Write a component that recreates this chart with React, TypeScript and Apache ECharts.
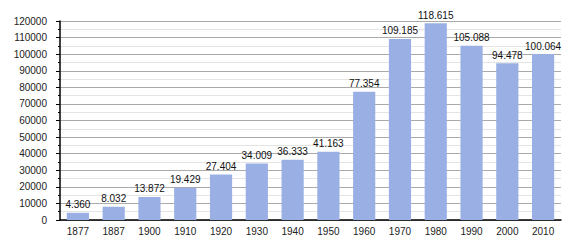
import React, { useEffect, useRef } from "react";
import * as echarts from "echarts";

const years = ["1877", "1887", "1900", "1910", "1920", "1930", "1940", "1950", "1960", "1970", "1980", "1990", "2000", "2010"];
const population = [4360, 8032, 13872, 19429, 27404, 34009, 36333, 41163, 77354, 109185, 118615, 105088, 94478, 100064];
const barLabels = ["4.360", "8.032", "13.872", "19.429", "27.404", "34.009", "36.333", "41.163", "77.354", "109.185", "118.615", "105.088", "94.478", "100.064"];

export default function App() {
  const ref = useRef<HTMLDivElement>(null);
  useEffect(() => {
    const chart = echarts.init(ref.current!, null, { renderer: "svg" });
    chart.setOption({
      animation: false,
      grid: { left: 60, right: 19, top: 21, bottom: 30 },
      xAxis: {
        type: "category",
        data: years,
        axisLine: { lineStyle: { color: "#000", width: 1.5 } },
        axisTick: { show: false },
        axisLabel: { color: "#222", fontSize: 10, fontFamily: "Liberation Sans", margin: 6 },
      },
      yAxis: {
        type: "value",
        min: 0,
        max: 120000,
        interval: 10000,
        axisLine: { show: true, lineStyle: { color: "#000", width: 1.5 } },
        axisTick: { show: true, length: 4, lineStyle: { color: "#000" } },
        minorTick: { show: true, splitNumber: 2, length: 2, lineStyle: { color: "#000" } },
        splitLine: { show: true, lineStyle: { color: "#aaa", width: 1 } },
        minorSplitLine: { show: true, lineStyle: { color: "#e4e4e4", width: 1 } },
        axisLabel: {
          color: "#222",
          fontSize: 10,
          fontFamily: "Liberation Sans",
          margin: 13,
          formatter: (v: number) => String(v),
        },
      },
      series: [
        {
          type: "bar",
          data: population,
          barWidth: "62%",
          itemStyle: { color: "#9ab0e4" },
          label: {
            show: true,
            position: "top",
            distance: 3,
            color: "#111",
            fontSize: 10,
            fontFamily: "Liberation Sans",
            formatter: (p: any) => barLabels[p.dataIndex],
          },
        },
      ],
    });
    return () => chart.dispose();
  }, []);
  return <div ref={ref} style={{ width: 580, height: 250, position: "absolute", left: 0, top: 0 }} />;
}
